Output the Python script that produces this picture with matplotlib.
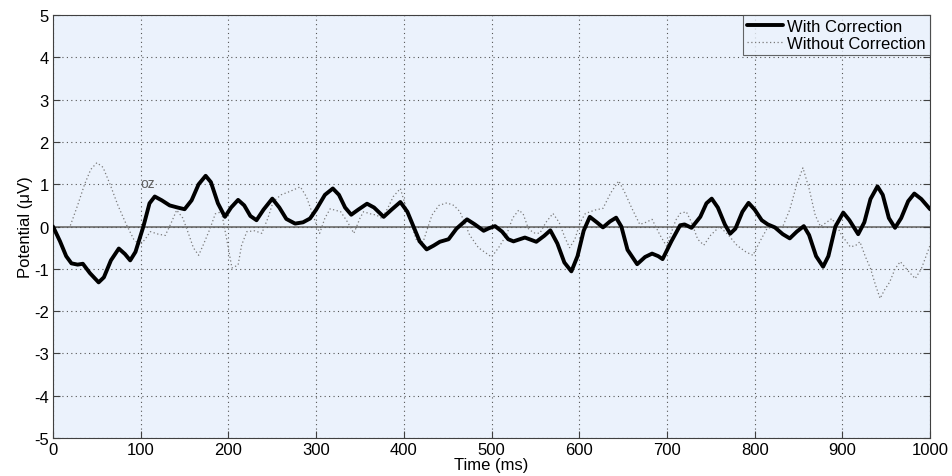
import matplotlib
matplotlib.use("Agg")
import matplotlib.pyplot as plt

# --- data ---
t_with = [0, 8, 15, 21, 28, 34, 42, 52, 58, 66, 75, 82, 88, 94, 103, 110, 116, 124, 133, 142,
          150, 158, 166, 174, 180, 188, 196, 203, 211, 218, 225, 232, 240, 250, 258, 266, 276, 285,
          293, 300, 310, 319, 326, 333, 340, 348, 358, 366, 377, 386, 396, 404, 411, 418, 426, 434,
          441, 451, 460, 472, 481, 491, 497, 504, 512, 519, 525, 538, 551, 560, 567, 575, 583, 591,
          598, 605, 612, 620, 627, 635, 642, 648, 655, 666, 675, 683, 690, 695, 705, 715, 720, 728,
          738, 745, 751, 758, 766, 772, 778, 786, 793, 800, 808, 815, 823, 832, 840, 848, 856, 862,
          870, 878, 884, 892, 901, 908, 918, 925, 932, 940, 946, 953, 960, 967, 975, 982, 990, 1000]
v_with = [0.0, -0.35, -0.7, -0.87, -0.9, -0.88, -1.1, -1.32, -1.2, -0.8, -0.52, -0.65, -0.8, -0.6,
          0.0, 0.55, 0.71, 0.62, 0.5, 0.45, 0.41, 0.62, 1.0, 1.2, 1.05, 0.55, 0.23, 0.45, 0.63, 0.5,
          0.25, 0.15, 0.4, 0.66, 0.45, 0.18, 0.07, 0.1, 0.19, 0.4, 0.75, 0.9, 0.75, 0.45, 0.28, 0.4,
          0.54, 0.45, 0.23, 0.4, 0.58, 0.35, 0.0, -0.35, -0.54, -0.45, -0.36, -0.3, -0.05, 0.17,
          0.05, -0.1, -0.04, 0.01, -0.12, -0.3, -0.35, -0.26, -0.36, -0.22, -0.09, -0.4, -0.85,
          -1.06, -0.7, -0.1, 0.23, 0.1, -0.02, 0.12, 0.21, 0.0, -0.55, -0.89, -0.72, -0.64, -0.7,
          -0.77, -0.35, 0.03, 0.05, -0.03, 0.23, 0.55, 0.66, 0.45, 0.05, -0.17, -0.05, 0.35, 0.56,
          0.4, 0.15, 0.05, -0.02, -0.18, -0.28, -0.12, 0.01, -0.2, -0.7, -0.95, -0.7, 0.0, 0.33,
          0.15, -0.18, 0.1, 0.65, 0.95, 0.75, 0.2, -0.03, 0.2, 0.6, 0.78, 0.65, 0.41]

t_without = [0, 10, 19, 28, 36, 43, 50, 57, 65, 74, 84, 92, 99, 105, 111, 120, 128, 135, 141, 148,
             155, 160, 166, 172, 179, 185, 192, 198, 204, 211, 215, 221, 230, 238, 245, 251, 260,
             270, 282, 289, 295, 304, 310, 316, 328, 336, 343, 350, 354, 362, 369, 375, 382, 388,
             396, 405, 415, 422, 432, 440, 449, 457, 464, 475, 485, 500, 508, 517, 524, 531, 536,
             542, 548, 555, 562, 570, 577, 584, 589, 595, 601, 607, 618, 627, 636, 645, 652, 660,
             669, 676, 683, 692, 700, 704, 710, 715, 722, 728, 735, 742, 750, 760, 770, 780, 790,
             798, 806, 814, 822, 832, 840, 848, 855, 862, 869, 875, 882, 888, 894, 899, 909, 915,
             920, 926, 932, 938, 943, 948, 954, 960, 966, 975, 983, 990, 1000]
v_without = [0.0, -0.02, -0.02, 0.5, 1.0, 1.35, 1.51, 1.4, 1.0, 0.5, 0.03, -0.3, -0.44, -0.3,
             -0.12, -0.18, -0.21, 0.1, 0.39, 0.2, -0.2, -0.5, -0.68, -0.4, -0.05, 0.3, 0.35, -0.3,
             -0.98, -0.91, -0.44, -0.12, -0.1, -0.16, 0.2, 0.59, 0.75, 0.83, 0.94, 0.7, 0.35, -0.16,
             0.2, 0.42, 0.35, 0.1, -0.16, 0.2, 0.35, 0.3, 0.27, 0.19, 0.45, 0.71, 0.9, 0.27, -0.36,
             -0.36, 0.27, 0.5, 0.56, 0.5, 0.35, -0.2, -0.5, -0.72, -0.5, -0.2, 0.2, 0.39, 0.3, -0.05,
             -0.15, -0.16, 0.1, 0.31, 0.1, -0.28, -0.5, -0.3, 0.1, 0.31, 0.39, 0.43, 0.8, 1.08, 0.8,
             0.43, 0.05, 0.1, 0.17, -0.2, -0.48, -0.2, 0.15, 0.31, 0.35, 0.1, -0.3, -0.44, -0.2, 0.0,
             -0.2, -0.45, -0.6, -0.68, -0.35, -0.05, 0.0, 0.0, 0.4, 1.0, 1.39, 0.9, 0.27, 0.0, 0.1,
             0.19, 0.0, -0.2, -0.48, -0.45, -0.36, -0.7, -0.99, -1.4, -1.7, -1.5, -1.31, -1.0, -0.83,
             -1.05, -1.23, -1.0, -0.44]

x_ticks = [0, 100, 200, 300, 400, 500, 600, 700, 800, 900, 1000]
y_ticks = [-5, -4, -3, -2, -1, 0, 1, 2, 3, 4, 5]

plt.rcParams['font.family'] = ['Liberation Sans', 'DejaVu Sans']
plt.rcParams['axes.unicode_minus'] = False

fig = plt.figure(figsize=(9.52, 4.77), dpi=100)
ax = fig.add_axes([0.0557, 0.0797, 0.9213, 0.8865])
ax.set_facecolor('#EBF2FC')

ax.axhline(0, color='#808080', lw=1.4, zorder=1)
ln1, = ax.plot(t_with, v_with, color='black', lw=2.8, solid_joinstyle='round',
               solid_capstyle='round', zorder=3, label='With Correction')
ln2, = ax.plot(t_without, v_without, color='#7a7a7a', lw=0.9, ls=(0, (1, 2)),
               zorder=2, label='Without Correction')

ax.text(100, 1.03, 'oz', color='#606060', fontsize=10, ha='left', va='center')

ax.set_xlim(0, 1000)
ax.set_ylim(-5, 5)
ax.set_xticks(x_ticks)
ax.set_yticks(y_ticks)
ax.tick_params(direction='in', length=5, labelsize=12, color='#404040', top=False, right=True,
               pad=3)
ax.grid(True, color='#555555', ls=(0, (1, 3)), lw=0.8)
for s in ax.spines.values():
    s.set_color('#404040')
    s.set_linewidth(0.8)

ax.set_xlabel('Time (ms)', fontsize=12, labelpad=0)
ax.set_ylabel('Potential (\u03bcV)', fontsize=12, labelpad=1)

leg = ax.legend(handles=[ln1, ln2], loc='upper right', fontsize=12, frameon=True,
                fancybox=False, borderaxespad=0, handlelength=2.15, handletextpad=0.25,
                borderpad=0.25, labelspacing=0.1)
leg.get_frame().set_edgecolor('#404040')
leg.get_frame().set_facecolor('#EBF2FC')
leg.get_frame().set_linewidth(0.8)

fig.savefig('out.png', dpi=100, facecolor='white')
